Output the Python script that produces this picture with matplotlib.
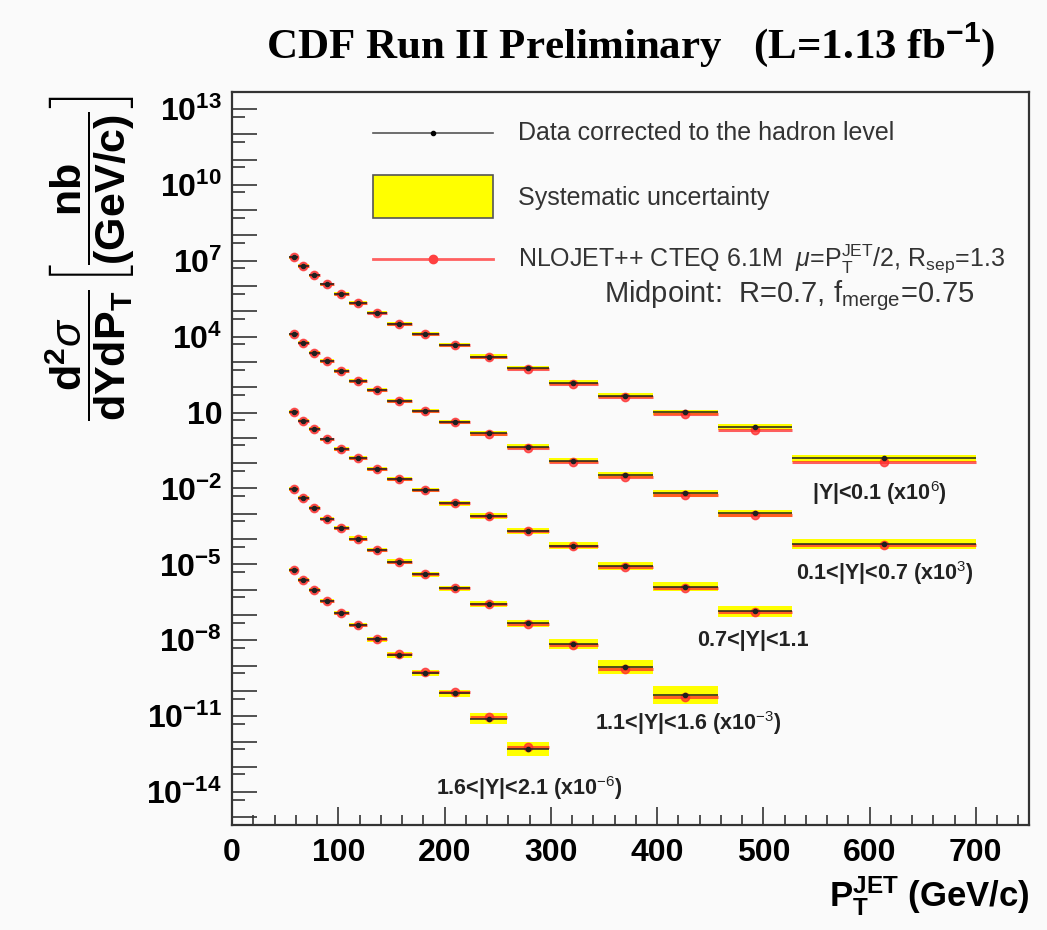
import numpy as np
import matplotlib
matplotlib.use('Agg')
import matplotlib.pyplot as plt
from matplotlib.patches import Rectangle
from matplotlib.ticker import FixedLocator, NullFormatter

plt.rcParams['font.family'] = ['Liberation Sans', 'DejaVu Sans']
plt.rcParams['mathtext.fontset'] = 'custom'
plt.rcParams['mathtext.rm'] = 'Liberation Sans'
plt.rcParams['mathtext.bf'] = 'Liberation Sans:bold'
plt.rcParams['mathtext.it'] = 'Liberation Sans:italic'
plt.rcParams['mathtext.sf'] = 'Liberation Sans'

# pT bin edges (GeV/c)
edges = np.array([54, 62, 72, 83, 96, 110, 127, 146, 169, 195, 224, 259,
                  298, 344, 396, 457, 527, 700])

# measured cross sections, already multiplied by the plotted scale factors
y01 = [1.38e7, 6.2e6, 2.7e6, 1.17e6, 4.9e5, 2.1e5, 8.9e4, 3.2e4, 1.23e4,
       4.6e3, 1.62e3, 575, 151, 46, 10.2, 2.75, 0.155]
y07 = [1.23e4, 5.75e3, 2.34e3, 1.07e3, 437, 178, 78, 29.5, 11.5, 4.2,
       1.51, 0.447, 0.126, 0.033, 6.5e-3, 1.05e-3, 6.5e-5]
y11 = [10.5, 4.8, 2.2, 0.87, 0.355, 0.155, 0.058, 0.024, 8.7e-3, 2.6e-3,
       8.1e-4, 2.14e-4, 5.5e-5, 8.9e-6, 1.32e-6, 1.41e-7]
y16 = [9.8e-3, 4.1e-3, 1.66e-3, 6.5e-4, 2.63e-4, 1.05e-4, 3.7e-5, 1.29e-5,
       4.1e-6, 1.12e-6, 2.7e-7, 4.8e-8, 7.1e-9, 8.5e-10, 6.9e-11]
y21 = [6.0e-6, 2.4e-6, 9.8e-7, 3.55e-7, 1.23e-7, 4.0e-8, 1.12e-8, 2.63e-9,
       5.2e-10, 8.1e-11, 7.9e-12, 4.9e-13]

# relative systematic uncertainty
sys01 = [0.16, 0.16, 0.16, 0.17, 0.17, 0.18, 0.18, 0.19, 0.2, 0.21, 0.22,
         0.23, 0.25, 0.27, 0.29, 0.33, 0.42]
sys07 = [0.16, 0.16, 0.16, 0.17, 0.17, 0.18, 0.18, 0.19, 0.2, 0.21, 0.22,
         0.24, 0.26, 0.3, 0.35, 0.37, 0.58]
sys11 = [0.17, 0.17, 0.17, 0.18, 0.18, 0.19, 0.2, 0.21, 0.22, 0.24, 0.27,
         0.3, 0.35, 0.44, 0.55, 0.62]
sys16 = [0.18, 0.18, 0.19, 0.19, 0.2, 0.21, 0.22, 0.24, 0.27, 0.3, 0.33,
         0.37, 0.58, 0.9, 1.3]
sys21 = [0.2, 0.2, 0.2, 0.21, 0.22, 0.24, 0.26, 0.29, 0.33, 0.4, 0.62, 0.9]

# NLO / data
nlo01 = [1, 1, 1, 1, 1, 1, 1, 1, 1, 1, 0.97, 0.95, 0.93, 0.9, 0.88, 0.75, 0.7]
nlo07 = [1, 1, 1, 1, 1, 1, 1, 1, 1, 0.97, 0.95, 0.92, 0.9, 0.88, 0.85, 0.85, 0.9]
nlo11 = [1, 1, 1, 1, 1, 1, 1, 1, 1, 1, 0.97, 0.95, 0.93, 0.9, 0.9, 0.9]
nlo16 = [1, 1, 1, 1, 1, 1, 1, 1, 1, 1, 1, 0.95, 0.9, 0.85, 0.8]
nlo21 = [1, 1, 1, 1, 1, 1, 1, 1.05, 1.05, 1.1, 1.15, 1.2]

labels = [r'|Y|<0.1 (x10$^{6}$)', r'0.1<|Y|<0.7 (x10$^{3}$)', '0.7<|Y|<1.1',
          r'1.1<|Y|<1.6 (x10$^{-3}$)', r'1.6<|Y|<2.1 (x10$^{-6}$)']
label_x = [609, 614, 490, 429, 280]
label_y = [10**-2.18, 10**-5.34, 10**-7.99, 10**-11.27, 10**-13.84]

bg = '#fafafa'
fig = plt.figure(figsize=(10.47, 9.30), dpi=100, facecolor=bg)
ax = fig.add_axes([0.2216, 0.1129, 0.7612, 0.7882], facecolor=bg)
ax.set_yscale('log')
ax.set_xlim(0, 750)
ax.set_ylim(10**-15.3, 10**13.67)


def draw(vals, sys, nlo):
    n = len(vals)
    lo = edges[:n]
    hi = edges[1:n + 1]
    c = 0.5 * (lo + hi)
    hw = 0.5 * (hi - lo)
    v = np.array(vals)
    s = np.array(sys)
    ax.bar(c, v * (1 + s) - v / (1 + s), bottom=v / (1 + s), width=hi - lo,
           color='#ffff00', edgecolor='none', zorder=2)
    th = v * np.array(nlo)
    ax.errorbar(c, th, xerr=hw, fmt='o', color='#ff2a2a', ms=6, lw=2.2,
                alpha=0.75, capsize=0, zorder=3)
    ax.errorbar(c, v, xerr=hw, fmt='o', color='#202020', ms=3, lw=1.1,
                capsize=0, zorder=4)


for vals, sys, nlo in [(y01, sys01, nlo01), (y07, sys07, nlo07),
                       (y11, sys11, nlo11), (y16, sys16, nlo16),
                       (y21, sys21, nlo21)]:
    draw(vals, sys, nlo)

for lab, lx, ly in zip(labels, label_x, label_y):
    ax.text(lx, ly, lab, ha='center', va='center', fontsize=15.5,
            fontweight='bold', color='#222222')

# axes styling (ROOT look)
for sp in ax.spines.values():
    sp.set_linewidth(1.6)
    sp.set_color('#333333')

ax.xaxis.set_major_locator(FixedLocator(np.arange(0, 701, 100)))
ax.xaxis.set_minor_locator(FixedLocator(np.arange(0, 751, 20)))
ax.set_xticklabels([str(v) for v in range(0, 701, 100)])

dec = np.arange(-15, 14)
ax.yaxis.set_major_locator(FixedLocator(10.0 ** dec))
ax.yaxis.set_minor_locator(FixedLocator(5 * 10.0 ** dec))
ylabs = []
for d in dec:
    if d % 3 == 1 and d != -15:
        ylabs.append('10' if d == 1 else r'$\mathbf{10^{%d}}$' % d)
    else:
        ylabs.append('')
ax.set_yticklabels(ylabs)
ax.yaxis.set_minor_formatter(NullFormatter())

ax.tick_params(axis='both', which='both', direction='in', color='#333333',
               width=1.2, top=False, right=False)
ax.tick_params(axis='y', which='major', length=18, labelsize=23, pad=7)
ax.tick_params(axis='y', which='minor', length=9)
ax.tick_params(axis='x', which='major', length=13, labelsize=23, pad=9)
ax.tick_params(axis='x', which='minor', length=7)
for t in ax.get_xticklabels() + ax.get_yticklabels():
    t.set_fontweight('bold')

# legend drawn by hand
tr = ax.transAxes
txt = '#333333'
ax.plot([0.177, 0.327], [0.944, 0.944], color='#555555', lw=1.2,
        transform=tr, clip_on=False)
ax.plot([0.252], [0.944], 'o', color='black', ms=3, transform=tr)
ax.text(0.359, 0.944, 'Data corrected to the hadron level', transform=tr,
        fontsize=18, va='center', color=txt)
ax.add_patch(Rectangle((0.177, 0.828), 0.150, 0.059, transform=tr,
                       facecolor='#ffff00', edgecolor='#555555', lw=1.2))
ax.text(0.359, 0.856, 'Systematic uncertainty', transform=tr,
        fontsize=18, va='center', color=txt)
ax.plot([0.177, 0.327], [0.772, 0.772], color='#ff6060', lw=2,
        transform=tr, clip_on=False)
ax.plot([0.252], [0.772], 'o', color='#ff4040', ms=6, transform=tr)
ax.text(0.359, 0.772,
        r'NLOJET++ CTEQ 6.1M  $\mu$=P$_\mathrm{T}^\mathrm{JET}$/2, '
        r'R$_\mathrm{sep}$=1.3',
        transform=tr, fontsize=18, va='center', color=txt)
ax.text(0.467, 0.722, r'Midpoint:  R=0.7, f$_\mathrm{merge}$=0.75',
        transform=tr, fontsize=21, va='center', color=txt)

# titles
fig.text(0.602, 0.952, r'CDF Run II Preliminary   (L=1.13 fb$^{\mathbf{-1}}$)',
         ha='center', va='center', fontsize=31, fontweight='bold',
         family='Liberation Serif')
fig.text(0.983, 0.037, r'$\mathbf{P_{T}^{JET}}$ (GeV/c)', ha='right',
         va='center', fontsize=25, fontweight='bold')
fig.text(0.086, 0.723,
         r'$\dfrac{\mathbf{d^{2}}\sigma}{\mathbf{dYdP_{T}}}'
         r'\left[\dfrac{\mathbf{nb}}{\mathbf{(GeV/c)}}\right]$',
         ha='center', va='center', rotation=90, fontsize=31)

fig.savefig('out.png', dpi=100, facecolor=bg)
